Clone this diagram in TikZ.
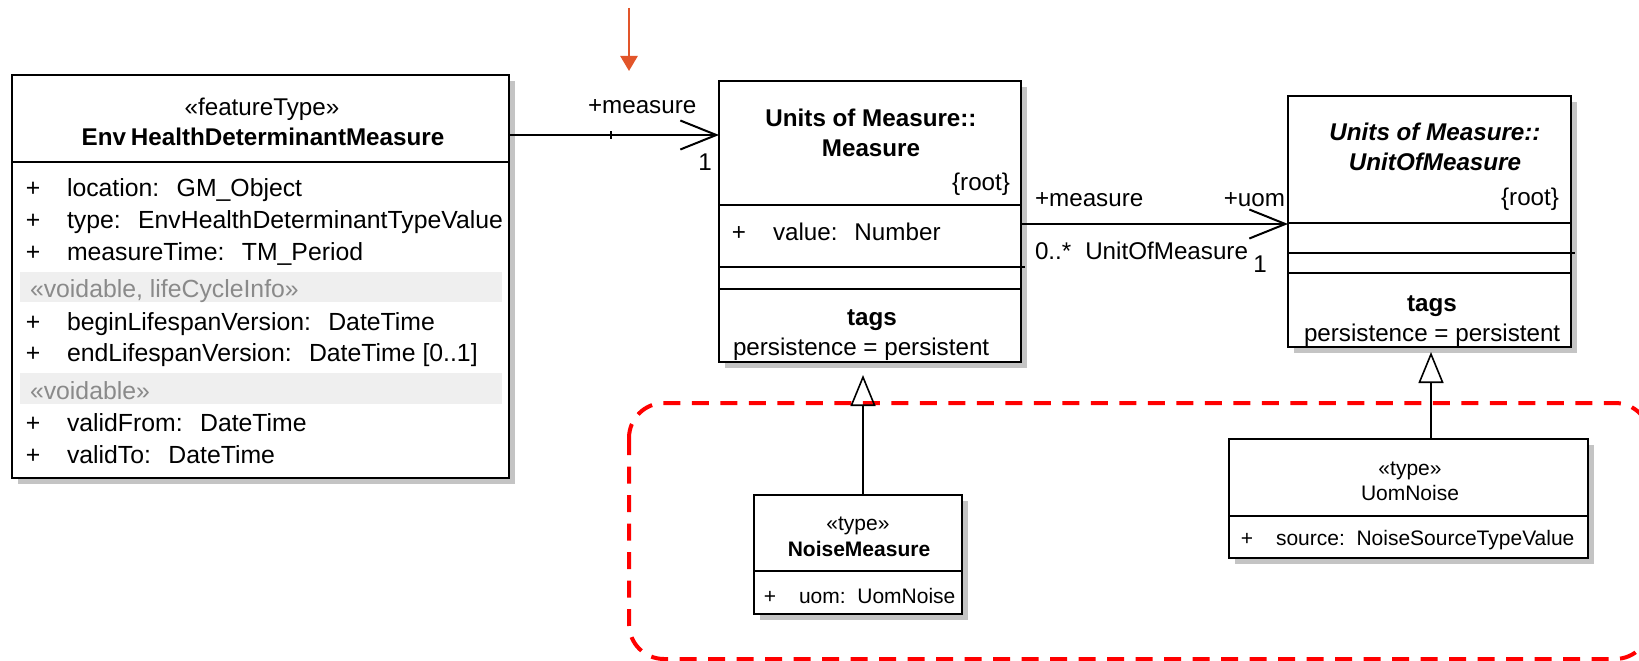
\documentclass[tikz,border=0pt]{standalone}
\usepackage{fontspec}
\setmainfont{Liberation Sans}
\usetikzlibrary{arrows.meta,calc,shadows}
\definecolor{shade}{HTML}{C4C4C4}
\definecolor{band}{HTML}{EFEFEF}
\definecolor{bandtext}{HTML}{8A8A8A}
\definecolor{orangearrow}{HTML}{E2552A}
\definecolor{dashred}{HTML}{FF0000}
\newcommand\fbig{\fontsize{24.2}{31}\selectfont}
\newcommand\fattr{\fontsize{24.8}{31}\selectfont}
\newcommand\fsmall{\fontsize{21}{26}\selectfont}
\newcommand\cg{\hspace{0.7em}}
\begin{document}
\begin{tikzpicture}[x=1pt,y=-1pt,
  umlbox/.style={draw=black, line width=2pt, fill=white, inner sep=0pt, outer sep=0pt,
    anchor=north west, drop shadow={shadow xshift=6pt, shadow yshift=-6pt, fill=shade, opacity=1}},
  sepline/.style={line width=1.8pt},
  big/.style={font=\fbig, inner sep=0pt, outer sep=0pt, yshift=-5.5pt},
  attr/.style={font=\fattr, inner sep=0pt, outer sep=0pt, yshift=-5.5pt},
  small/.style={font=\fsmall, inner sep=0pt, outer sep=0pt, yshift=-5pt},
  assoc/.style={line width=2pt, -{Straight Barb[length=36pt,width=29pt,line width=2pt]}},
  gen/.style={line width=1.6pt, -{Triangle[open,length=31pt,width=25pt,line width=1.6pt]}},
  pointer/.style={draw=orangearrow, line width=2.5pt, -{Triangle[length=15pt,width=17pt]}},
  groupframe/.style={draw=dashred, line width=4pt, dash pattern=on 17pt off 11.5pt, rounded corners=35pt}
]
\useasboundingbox (0,0) rectangle (1639,661);
\fill[white] (0,0) rectangle (1639,661);

% red dashed group frame (clipped at the right edge)
\begin{scope}
  \clip (0,0) rectangle (1639,661);
  \draw[groupframe] (629,403) rectangle (1650,659);
\end{scope}

% ---------- EnvHealthDeterminantMeasure ----------
\node[umlbox, minimum width=497pt, minimum height=403pt] (env) at (12,75) {};
\draw[sepline] ($(env.north west)+(0,87)$) -- ($(env.north east)+(0,87)$);
\fill[band] (20,272) rectangle (502,302);
\fill[band] (20,373) rectangle (502,404);
\node[big, anchor=mid] (envst) at (262,107) {«featureType»};
\node[big, anchor=mid, font=\fbig\bfseries] (envname) at (263,137) {Env\hspace{0.2em}HealthDeterminantMeasure};
\node[attr, anchor=mid] (ep1) at (33,188) {+};
\node[attr, anchor=mid west] (ea1) at (67,188) {location:\cg GM\_Object};
\node[attr, anchor=mid] (ep2) at (33,220) {+};
\node[attr, anchor=mid west] (ea2) at (67,220) {type:\cg EnvHealthDeterminantTypeValue};
\node[attr, anchor=mid] (ep3) at (33,252) {+};
\node[attr, anchor=mid west] (ea3) at (67,252) {measureTime:\cg TM\_Period};
\node[attr, anchor=mid west, text=bandtext] (eb1) at (30,289) {«voidable, lifeCycleInfo»};
\node[attr, anchor=mid] (ep4) at (33,322) {+};
\node[attr, anchor=mid west] (ea4) at (67,322) {beginLifespanVersion:\cg DateTime};
\node[attr, anchor=mid] (ep5) at (33,353) {+};
\node[attr, anchor=mid west] (ea5) at (67,353) {endLifespanVersion:\cg DateTime [0..1]};
\node[attr, anchor=mid west, text=bandtext] (eb2) at (30,391) {«voidable»};
\node[attr, anchor=mid] (ep6) at (33,423) {+};
\node[attr, anchor=mid west] (ea6) at (67,423) {validFrom:\cg DateTime};
\node[attr, anchor=mid] (ep7) at (33,455) {+};
\node[attr, anchor=mid west] (ea7) at (67,455) {validTo:\cg DateTime};

% ---------- Units of Measure::Measure ----------
\node[umlbox, minimum width=302pt, minimum height=281pt] (meas) at (719,81) {};
\draw[sepline] ($(meas.north west)+(0,124)$) -- ($(meas.north east)+(0,124)$);
\draw[sepline] ($(meas.north west)+(0,186)$) -- ($(meas.north east)+(4,186)$);
\draw[sepline] ($(meas.north west)+(0,208)$) -- ($(meas.north east)+(0,208)$);
\node[big, anchor=mid, font=\fbig\bfseries] (mt1) at (871,118) {Units of Measure::};
\node[big, anchor=mid, font=\fbig\bfseries] (mt2) at (871,148) {Measure};
\node[big, anchor=mid east] (mroot) at (1010,182) {\{root\}};
\node[big, anchor=mid] (mp1) at (739,232) {+};
\node[big, anchor=mid west] (ma1) at (773,232) {value:\cg Number};
\node[big, anchor=mid, font=\fbig\bfseries] (mtags) at (872,317) {tags};
\node[big, anchor=mid west] (mpers) at (733,347) {persistence = persistent};

% ---------- Units of Measure::UnitOfMeasure ----------
\node[umlbox, minimum width=283pt, minimum height=251pt] (uom) at (1288,96) {};
\draw[sepline] ($(uom.north west)+(0,127)$) -- ($(uom.north east)+(0,127)$);
\draw[sepline] ($(uom.north west)+(0,157)$) -- ($(uom.north east)+(4,157)$);
\draw[sepline] ($(uom.north west)+(0,177)$) -- ($(uom.north east)+(0,177)$);
\node[big, anchor=mid, font=\fbig\bfseries\itshape] (ut1) at (1435,132) {Units of Measure::};
\node[big, anchor=mid, font=\fbig\bfseries\itshape] (ut2) at (1435,162) {UnitOfMeasure};
\node[big, anchor=mid east] (uroot) at (1559,197) {\{root\}};
\node[big, anchor=mid, font=\fbig\bfseries] (utags) at (1432,303) {tags};
\node[big, anchor=mid west] (upers) at (1304,333) {persistence = persistent};

% ---------- NoiseMeasure ----------
\node[umlbox, minimum width=208pt, minimum height=119pt] (nm) at (754,495) {};
\draw[sepline] ($(nm.north west)+(0,76)$) -- ($(nm.north east)+(0,76)$);
\node[small, anchor=mid] (nmst) at (858,523) {«type»};
\node[small, anchor=mid, font=\fsmall\bfseries] (nmname) at (859,549) {NoiseMeasure};
\node[small, anchor=mid] (nmp) at (770,596) {+};
\node[small, anchor=mid west] (nma) at (799,596) {uom:\ \ UomNoise};

% ---------- UomNoise ----------
\node[umlbox, minimum width=359pt, minimum height=119pt] (un) at (1229,439) {};
\draw[sepline] ($(un.north west)+(0,77)$) -- ($(un.north east)+(0,77)$);
\node[small, anchor=mid] (unst) at (1410,468) {«type»};
\node[small, anchor=mid] (unname) at (1410,493) {UomNoise};
\node[small, anchor=mid] (unp) at (1247,538) {+};
\node[small, anchor=mid west] (una) at (1276,538) {source:\ \ NoiseSourceTypeValue};

% ---------- connectors ----------
\coordinate (a1) at (0,135);
\draw[assoc] (env.east |- a1) -- (meas.west |- a1);
\draw[line width=2.5pt] (611,131) -- (611,139);
\node[big, anchor=mid west] (a1role) at (588,105) {+measure};
\node[big, anchor=mid] (a1mult) at (705,162) {1};

\coordinate (a2) at (0,224);
\draw[assoc] (meas.east |- a2) -- (uom.west |- a2);
\node[big, anchor=mid west] (a2role1) at (1035,198) {+measure};
\node[big, anchor=mid east] (a2role2) at (1285,198) {+uom};
\node[big, anchor=mid west] (a2mult1) at (1035,251) {0..*};
\node[big, anchor=mid east] (a2name) at (1248,251) {UnitOfMeasure};
\node[big, anchor=mid] (a2mult2) at (1260,264) {1};

\coordinate (g1) at (863,0);
\draw[gen, shorten >=13pt] (nm.north -| g1) -- (meas.south -| g1);
\coordinate (g2) at (1431,0);
\draw[gen, shorten >=5pt] (un.north -| g2) -- (uom.south -| g2);

% orange pointer
\coordinate (pa) at (629,8);
\coordinate (pb) at (629,71);
\draw[pointer] (pa) -- (pb);
\end{tikzpicture}
\end{document}
